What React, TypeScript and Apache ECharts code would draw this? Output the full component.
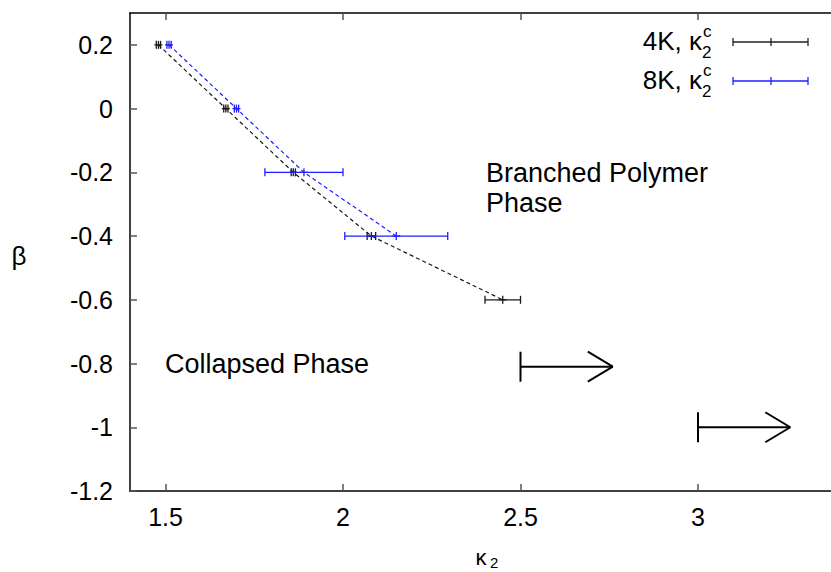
import React, { useEffect, useRef } from "react";
import * as echarts from "echarts";

// ---- data ----
const xTicks = [1.5, 2, 2.5, 3];
const yTicks = [-1.2, -1, -0.8, -0.6, -0.4, -0.2, 0, 0.2];
const kappa4K = [1.48, 1.67, 1.86, 2.08, 2.45];
const beta4K = [0.2, 0, -0.2, -0.4, -0.6];
const err4K = [0.006, 0.006, 0.006, 0.012, 0.05];
const kappa8K = [1.51, 1.7, 1.89, 2.15];
const beta8K = [0.2, 0, -0.2, -0.4];
const err8K = [0.006, 0.006, 0.11, 0.145];
const arrowFrom = [2.5, 3.0];
const arrowTo = [2.76, 3.26];
const arrowBeta = [-0.81, -1.0];

const X_MIN = 1.4;
const X_MAX = 3.4;
const Y_MIN = -1.2;
const Y_MAX = 0.3;

const FONT = "'Liberation Sans', Arial, Helvetica, sans-serif";
const BLACK = "#1a1a1a";
const BLUE = "#1f1fff";

const errRender = (color: string) => (params: any, api: any) => {
  const y = api.value(1);
  const c = api.coord([api.value(0), y]);
  const lo = api.coord([api.value(2), y]);
  const hi = api.coord([api.value(3), y]);
  const style = { stroke: color, lineWidth: 1.3 };
  const h = 4;
  return {
    type: "group",
    children: [
      { type: "line", shape: { x1: lo[0], y1: lo[1], x2: hi[0], y2: hi[1] }, style },
      { type: "line", shape: { x1: lo[0], y1: lo[1] - h, x2: lo[0], y2: lo[1] + h }, style },
      { type: "line", shape: { x1: hi[0], y1: hi[1] - h, x2: hi[0], y2: hi[1] + h }, style },
      { type: "line", shape: { x1: c[0] - h, y1: c[1], x2: c[0] + h, y2: c[1] }, style },
      { type: "line", shape: { x1: c[0], y1: c[1] - h, x2: c[0], y2: c[1] + h }, style },
    ],
  };
};

const arrowRender = (params: any, api: any) => {
  const y = api.value(2);
  const s = api.coord([api.value(0), y]);
  const e = api.coord([api.value(1), y]);
  const style = { stroke: "#000", lineWidth: 2 };
  return {
    type: "group",
    children: [
      { type: "line", shape: { x1: s[0], y1: s[1] - 15, x2: s[0], y2: s[1] + 15 }, style },
      { type: "line", shape: { x1: s[0], y1: s[1], x2: e[0], y2: e[1] }, style },
      { type: "line", shape: { x1: e[0] - 25, y1: e[1] - 15, x2: e[0], y2: e[1] }, style },
      { type: "line", shape: { x1: e[0] - 25, y1: e[1] + 15, x2: e[0], y2: e[1] }, style },
    ],
  };
};

const legendRow = (label: string, color: string, yc: number) => {
  const style = { stroke: color, lineWidth: 1.3 };
  return [
    {
      type: "text",
      style: { text: label, x: 702, y: yc, align: "right", verticalAlign: "middle", font: `26px ${FONT}`, fill: "#000" },
    },
    {
      type: "text",
      style: { text: "2", x: 702, y: yc + 11, align: "left", verticalAlign: "middle", font: `17px ${FONT}`, fill: "#000" },
    },
    {
      type: "text",
      style: { text: "c", x: 703, y: yc - 10, align: "left", verticalAlign: "middle", font: `17px ${FONT}`, fill: "#000" },
    },
    { type: "line", shape: { x1: 733, y1: yc + 1, x2: 808, y2: yc + 1 }, style },
    { type: "line", shape: { x1: 733, y1: yc - 3, x2: 733, y2: yc + 5 }, style },
    { type: "line", shape: { x1: 808, y1: yc - 3, x2: 808, y2: yc + 5 }, style },
    { type: "line", shape: { x1: 771, y1: yc - 3, x2: 771, y2: yc + 5 }, style },
  ];
};

export default function App() {
  const ref = useRef<HTMLDivElement>(null);

  useEffect(() => {
    if (!ref.current) return;
    const chart = echarts.init(ref.current, undefined, { renderer: "svg" });

    const err4 = kappa4K.map((k, i) => [k, beta4K[i], k - err4K[i], k + err4K[i]]);
    const err8 = kappa8K.map((k, i) => [k, beta8K[i], k - err8K[i], k + err8K[i]]);
    const arrows = arrowFrom.map((a, i) => [a, arrowTo[i], arrowBeta[i]]);

    const xAxisBase = {
      type: "value",
      min: X_MIN,
      max: X_MAX,
      splitLine: { show: false },
      axisLine: { show: true, onZero: false, lineStyle: { color: "#000", width: 1.5 } },
      axisTick: { show: true, inside: true, length: 7, customValues: xTicks, lineStyle: { color: "#555", width: 1.5 } },
    };

    chart.setOption({
      animation: false,
      backgroundColor: "#fff",
      grid: { left: 130, top: 13, width: 710, height: 478, containLabel: false },
      xAxis: [
        {
          ...xAxisBase,
          position: "bottom",
          axisLabel: { show: true, customValues: xTicks, margin: 13, fontSize: 25, color: "#000", fontFamily: FONT },
        },
        {
          ...xAxisBase,
          position: "top",
          axisLabel: { show: false },
        },
      ],
      yAxis: {
        type: "value",
        min: Y_MIN,
        max: Y_MAX,
        splitLine: { show: false },
        axisLine: { show: true, onZero: false, lineStyle: { color: "#000", width: 1.5 } },
        axisTick: { show: true, inside: true, length: 7, customValues: yTicks, lineStyle: { color: "#555", width: 1.5 } },
        axisLabel: {
          show: true,
          customValues: yTicks,
          margin: 17,
          fontSize: 25,
          color: "#000",
          fontFamily: FONT,
        },
      },
      series: [
        {
          type: "line",
          name: "4K",
          data: kappa4K.map((k, i) => [k, beta4K[i]]),
          symbol: "none",
          lineStyle: { color: BLACK, width: 1.2, type: [4, 3] },
          z: 2,
        },
        {
          type: "line",
          name: "8K",
          data: kappa8K.map((k, i) => [k, beta8K[i]]),
          symbol: "none",
          lineStyle: { color: BLUE, width: 1.2, type: [4, 3] },
          z: 2,
        },
        {
          type: "custom",
          name: "4K err",
          renderItem: errRender(BLACK),
          data: err4,
          encode: { x: 0, y: 1 },
          z: 3,
        },
        {
          type: "custom",
          name: "8K err",
          renderItem: errRender(BLUE),
          data: err8,
          encode: { x: 0, y: 1 },
          z: 3,
        },
        {
          type: "custom",
          name: "arrows",
          renderItem: arrowRender,
          data: arrows,
          encode: { x: [0, 1], y: 2 },
          z: 3,
        },
      ],
      graphic: [
        ...legendRow("4K, κ", "#222", 41),
        ...legendRow("8K, κ", BLUE, 80),
        {
          type: "text",
          style: {
            text: "Branched Polymer\nPhase",
            x: 486,
            y: 158,
            font: `27px ${FONT}`,
            lineHeight: 30,
            fill: "#000",
            verticalAlign: "top",
          },
        },
        {
          type: "text",
          style: { text: "Collapsed Phase", x: 165, y: 364, font: `27px ${FONT}`, fill: "#000", verticalAlign: "middle" },
        },
        {
          type: "text",
          style: { text: "β", x: 19, y: 256, align: "center", font: `26px ${FONT}`, fill: "#000", verticalAlign: "middle" },
        },
        {
          type: "text",
          style: { text: "κ", x: 481, y: 557, align: "center", font: `22px ${FONT}`, fill: "#000", verticalAlign: "middle" },
        },
        {
          type: "text",
          style: { text: "2", x: 490, y: 562, align: "left", font: `15px ${FONT}`, fill: "#000", verticalAlign: "middle" },
        },
      ],
    });

    return () => chart.dispose();
  }, []);

  return (
    <div style={{ position: "fixed", left: 0, top: 0, width: 831, height: 572, overflow: "hidden", background: "#fff" }}>
      <div ref={ref} style={{ width: 900, height: 572 }} />
    </div>
  );
}
